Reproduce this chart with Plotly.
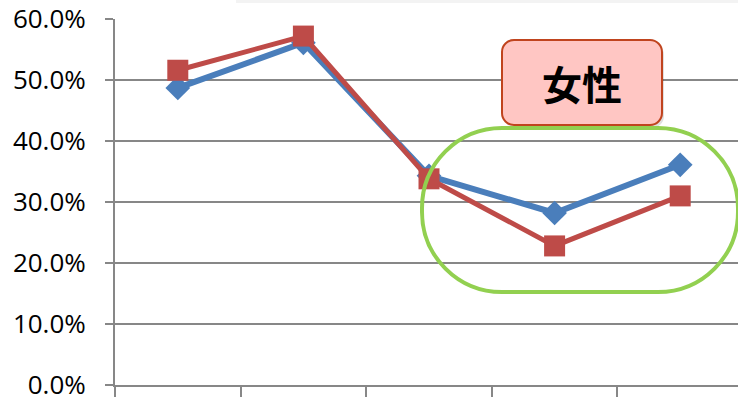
import plotly.graph_objects as go

# Shares for the five groups (men vs. women)
positions = [0, 1, 2, 3, 4]
blue_values = [0.487, 0.561, 0.343, 0.282, 0.361]
red_values = [0.516, 0.572, 0.338, 0.228, 0.310]
y_ticks = [0.0, 0.1, 0.2, 0.3, 0.4, 0.5, 0.6]

BLUE = "#4A7EBB"
RED = "#BE4B48"
GRID = "#878787"

W, H = 738, 398
ML, MT, MB = 115, 19, 13
CAT_PX = 125.6          # width of one category in pixels
UNIT_PX = 610.0         # pixels per 1.0 on the value axis
x_end = -0.5 + (W - ML) / CAT_PX


def px_to_x(px):
    return -0.5 + (px - ML) / CAT_PX


def py_to_y(py):
    return (H - MB - py) / UNIT_PX


def rounded_rect(x0, y0, x1, y1, rx, ry):
    """Rounded rectangle path in data coordinates (y0 bottom, y1 top)."""
    k = 0.5523
    return (
        f"M {x0 + rx},{y1} L {x1 - rx},{y1} "
        f"C {x1 - rx + k * rx},{y1} {x1},{y1 - ry + k * ry} {x1},{y1 - ry} "
        f"L {x1},{y0 + ry} "
        f"C {x1},{y0 + ry - k * ry} {x1 - rx + k * rx},{y0} {x1 - rx},{y0} "
        f"L {x0 + rx},{y0} "
        f"C {x0 + rx - k * rx},{y0} {x0},{y0 + ry - k * ry} {x0},{y0 + ry} "
        f"L {x0},{y1 - ry} "
        f"C {x0},{y1 - ry + k * ry} {x0 + rx - k * rx},{y1} {x0 + rx},{y1} Z"
    )


fig = go.Figure()
fig.add_trace(go.Scatter(
    x=positions, y=blue_values, mode="lines+markers",
    line=dict(color=BLUE, width=6),
    marker=dict(symbol="diamond", size=19, color=BLUE),
    showlegend=False, cliponaxis=False,
))
fig.add_trace(go.Scatter(
    x=positions, y=red_values, mode="lines+markers",
    line=dict(color=RED, width=5),
    marker=dict(symbol="square", size=21, color=RED),
    showlegend=False, cliponaxis=False,
))

shapes = []
# callout box with a soft drop shadow
bx0, bx1 = px_to_x(502), px_to_x(662)
by0, by1 = py_to_y(125), py_to_y(40)
rx, ry = 12 / CAT_PX, 12 / UNIT_PX
sx, sy = 2 / CAT_PX, 3 / UNIT_PX
shapes.append(dict(
    type="path", xref="x", yref="y",
    path=rounded_rect(bx0 + sx, by0 - sy, bx1 + sx, by1 - sy, rx, ry),
    fillcolor="rgba(0,0,0,0.12)", line=dict(width=0), layer="above",
))
shapes.append(dict(
    type="path", xref="x", yref="y",
    path=rounded_rect(bx0, by0, bx1, by1, rx, ry),
    fillcolor="#FFC6C3", line=dict(color="#C0441E", width=2), layer="above",
))
# green highlight ring around the last three groups
gx0, gx1 = px_to_x(422), px_to_x(738)
gy0, gy1 = py_to_y(292), py_to_y(128)
shapes.append(dict(
    type="path", xref="x", yref="y",
    path=rounded_rect(gx0, gy0, gx1, gy1, 80 / CAT_PX, 80 / UNIT_PX),
    fillcolor="rgba(0,0,0,0)", line=dict(color="#92D050", width=4), layer="above",
))
# faint edge of the panel above the chart
shapes.append(dict(
    type="rect", xref="paper", yref="paper",
    x0=(236 - ML) / (W - ML), x1=1.0,
    y0=(H - MB - 3) / (H - MB - MT), y1=(H - MB + 2) / (H - MB - MT),
    fillcolor="#F3F3F3", line=dict(width=0), layer="above",
))

fig.update_layout(
    width=W, height=H,
    margin=dict(l=ML, r=0, t=MT, b=MB, pad=0),
    paper_bgcolor="white", plot_bgcolor="white",
    shapes=shapes,
    annotations=[dict(
        x=(bx0 + bx1) / 2, y=(by0 + by1) / 2, xref="x", yref="y",
        text="<b>女性</b>", showarrow=False,
        font=dict(family="Noto Sans CJK JP", size=40, color="black"),
    )],
    xaxis=dict(
        range=[-0.5, x_end], showgrid=False, zeroline=False,
        showline=True, linecolor=GRID, linewidth=2, automargin=False,
        tickmode="array", tickvals=[p - 0.5 for p in positions] + [positions[-1] + 0.5],
        ticktext=[""] * (len(positions) + 1),
        ticks="outside", ticklen=10, tickwidth=2, tickcolor=GRID,
    ),
    yaxis=dict(
        range=[0, 0.6], tickmode="array", tickvals=y_ticks, tickformat=".1%",
        showgrid=True, gridcolor=GRID, gridwidth=2, zeroline=False,
        showline=True, linecolor=GRID, linewidth=2, automargin=False,
        ticks="outside", ticklen=8, tickwidth=2, tickcolor=GRID,
        tickfont=dict(family="Open Sans", size=26, color="black"),
        ticklabelstandoff=14, ticklabeloverflow="allow",
    ),
)

fig.write_html("out.html")
